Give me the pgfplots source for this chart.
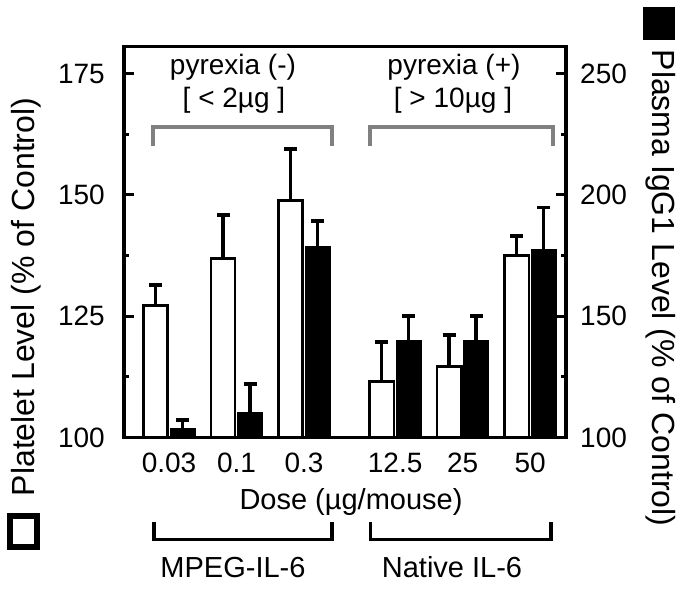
\documentclass[border=0pt]{standalone}
\usepackage{fontspec}
\setmainfont{Liberation Sans}
\usepackage{pgfplots}
\usepackage{pgfplotstable}
\pgfplotsset{compat=1.18}

% Platelet level (% of control), left axis
\pgfplotstableread{
x     y      e
-0.2  127.2  4.2
0.8   136.9  9.0
1.8   148.9  10.6
3.15  111.5  8.2
4.15  114.6  6.5
5.15  137.5  4.0
}\platelet
% Plasma IgG1 level (% of control), right axis
\pgfplotstableread{
x     y      e
0.2   103.9  3.3
1.2   110.1  12.0
2.2   178.6  10.7
3.55  139.8  10.3
4.55  139.8  10.3
5.55  177.7  17.1
}\igg

\pgfplotsset{
  common/.style={
    width=442pt, height=391pt, scale only axis,
    at={(124pt,150.5pt)}, anchor=south west,
    xmin=-0.667, xmax=5.881,
    ybar, bar width=0.36,
    axis line style={line width=3.5pt},
    tick label style={font=\fontsize{28}{30}\selectfont},
    /pgf/number format/assume math mode=true,
    tick align=inside,
    major tick length=10pt, minor tick length=5pt,
    every tick/.style={black, line width=3pt},
    clip=false,
  },
  errstyle/.style={
    error bars/.cd, y dir=plus, y explicit,
    error bar style={line width=3.5pt, black},
    error mark options={rotate=90, line width=3.5pt, mark size=6.5pt, black},
  },
}

\begin{document}
\begin{tikzpicture}
\path[use as bounding box] (0,0) rectangle (684pt,588pt);

\begin{axis}[common,
  axis on top,
  ymin=100, ymax=180.6,
  ytick={100,125,150,175},
  minor ytick={112.5,137.5,162.5},
  ytick pos=left,
  yticklabel style={anchor=east, inner sep=0pt, xshift=-19pt},
  xtick={0,1,2,3.35,4.35,5.35},
  xticklabels={0.03,0.1,0.3,12.5,25,50},
  major x tick style={draw=none},
  xticklabel style={anchor=center, inner sep=0pt, yshift=-25.5pt},
]
\addplot[fill=white, draw=black, line width=2.5pt, bar shift=0pt, errstyle]
  table[x=x, y=y, y error=e]{\platelet};
\end{axis}

\begin{axis}[common,
  ymin=100, ymax=261.2,
  axis x line=none,
  axis y line*=right,
  ytick={100,150,200,250},
  minor ytick={125,175,225},
  yticklabel style={anchor=west, inner sep=0pt, xshift=14pt},
]
\addplot[fill=black, draw=black, line width=1pt, bar width=0.37, bar shift=0pt, errstyle]
  table[x=x, y=y, y error=e]{\igg};
\end{axis}

% top grey brackets and annotations
\draw[gray, line width=3.5pt] (153pt,442pt) -- (153pt,461pt) -- (332pt,461pt) -- (332pt,442pt);
\draw[gray, line width=3.5pt] (370pt,442pt) -- (370pt,461pt) -- (553pt,461pt) -- (553pt,442pt);
\node[anchor=base, inner sep=0pt, font=\fontsize{28}{30}\selectfont] at (233pt,513pt) {pyrexia (-)};
\node[anchor=base, inner sep=0pt, font=\fontsize{28}{30}\selectfont] at (234pt,480pt) {[ < 2µg ]};
\node[anchor=base, inner sep=0pt, font=\fontsize{28}{30}\selectfont] at (454pt,513pt) {pyrexia (+)};
\node[anchor=base, inner sep=0pt, font=\fontsize{28}{30}\selectfont] at (453pt,480pt) {[ > 10µg ]};

% x axis title
\node[anchor=base, inner sep=0pt, font=\fontsize{29}{31}\selectfont] at (351pt,78pt) {Dose (µg/mouse)};

% bottom black brackets
\draw[black, line width=3.5pt] (154pt,66pt) -- (154pt,48.5pt) -- (332pt,48.5pt) -- (332pt,66pt);
\draw[black, line width=3.5pt] (370.5pt,66pt) -- (370.5pt,48.5pt) -- (551pt,48.5pt) -- (551pt,66pt);
\node[anchor=base, inner sep=0pt, font=\fontsize{29}{31}\selectfont] at (233pt,11pt) {MPEG-IL-6};
\node[anchor=base, inner sep=0pt, font=\fontsize{29}{31}\selectfont] at (452pt,11pt) {Native IL-6};

% left axis title with legend square
\draw[black, line width=6pt, fill=white] (10pt,41pt) rectangle (37pt,72pt);
\node[rotate=90, anchor=base, inner sep=0pt, font=\fontsize{32}{34}\selectfont] at (34pt,291pt) {Platelet Level (\% of Control)};

% right axis title with legend square
\fill[black] (643pt,548pt) rectangle (675pt,581pt);
\node[rotate=-90, anchor=base, inner sep=0pt, font=\fontsize{32}{34}\selectfont] at (652pt,300pt) {Plasma IgG1 Level (\% of Control)};
\end{tikzpicture}
\end{document}
